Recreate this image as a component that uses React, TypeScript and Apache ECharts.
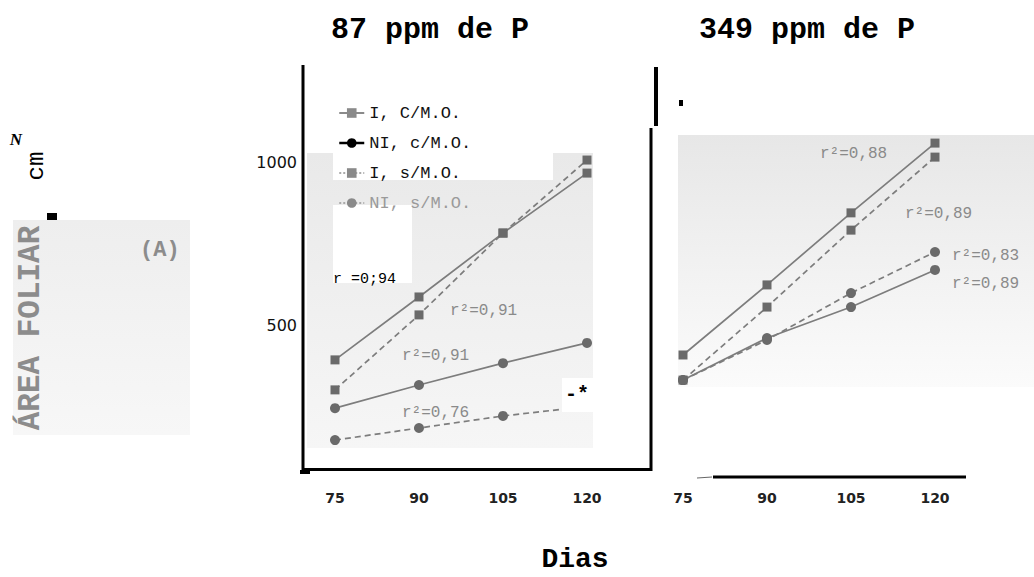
import React, { useEffect, useRef } from "react";
import * as echarts from "echarts";

const days = [75, 90, 105, 120];
const yTickLabels = [500, 1000];
const seriesNames = ["I, C/M.O.", "NI, c/M.O.", "I, s/M.O.", "NI, s/M.O."];
// 87 ppm de P
const ic87 = [393, 586, 782, 966];
const nic87 = [245, 316, 383, 445];
const is87 = [301, 531, 782, 1006];
const nis87 = [147, 184, 221, 250];
// 349 ppm de P
const ic349 = [408, 623, 844, 1058];
const nic349 = [331, 460, 555, 669];
const is349 = [331, 555, 791, 1015];
const nis349 = [331, 454, 598, 724];

const MONO = "'Liberation Mono', 'DejaVu Sans Mono', monospace";
const LINE = "#7d7d7d";
const MARK = "#6a6a6a";

function mk(name: string, vals: number[], idx: number, dashed: boolean, square: boolean) {
  return {
    name,
    type: "line",
    xAxisIndex: idx,
    yAxisIndex: idx,
    data: days.map((d, i) => [d, vals[i]]),
    symbol: square ? "rect" : "circle",
    symbolSize: square ? 9 : 10,
    itemStyle: { color: MARK },
    lineStyle: { color: LINE, width: 1.7, type: dashed ? [6, 4] : "solid" },
    z: 3,
  };
}

export default function App() {
  const ref = useRef<HTMLDivElement>(null);
  useEffect(() => {
    if (!ref.current) return;
    const chart = echarts.init(ref.current, undefined, { renderer: "svg" });
    const gridTop = 96.8;
    const gridH = 391.2;
    const xAx = (i: number) => ({
      type: "value",
      gridIndex: i,
      min: 75,
      max: 120,
      interval: 15,
      axisLine: { show: false },
      axisTick: { show: false },
      splitLine: { show: false },
      axisLabel: { margin: 3, fontFamily: "'DejaVu Sans', sans-serif", fontSize: 14, color: "#222", fontWeight: "bold" },
    });
    const yAx = (i: number) => ({
      type: "value",
      gridIndex: i,
      min: 0,
      max: 1200,
      interval: 100,
      axisLine: { show: false },
      axisTick: { show: false },
      splitLine: { show: false },
      axisLabel: {
        show: i === 0,
        margin: 38,
        fontFamily: "'DejaVu Sans', sans-serif",
        fontSize: 16,
        color: "#111",
        formatter: (v: number) => (yTickLabels.includes(v) ? String(v) : ""),
      },
    });
    const txt = (x: number, y: number, text: string, o: any = {}) => ({
      type: "text",
      x,
      y,
      z: o.z ?? 10,
      rotation: o.rotation ?? 0,
      style: {
        text,
        fill: o.fill ?? "#8a8a8a",
        font: o.font ?? `16px ${MONO}`,
        textAlign: o.align ?? "left",
        textVerticalAlign: "middle",
      },
    });
    const ln = (x1: number, y1: number, x2: number, y2: number, w = 3, c = "#000") => ({
      type: "line",
      z: 10,
      shape: { x1, y1, x2, y2 },
      style: { stroke: c, lineWidth: w },
    });
    const rc = (x: number, y: number, w: number, h: number, fill: any, z = 0) => ({
      type: "rect",
      z,
      shape: { x, y, width: w, height: h },
      style: { fill },
    });
    const grad = (a: string, b: string) =>
      new echarts.graphic.LinearGradient(0, 0, 0, 1, [
        { offset: 0, color: a },
        { offset: 1, color: b },
      ]);
    const option: any = {
      animation: false,
      backgroundColor: "#ffffff",
      grid: [
        { left: 335, top: gridTop, width: 252, height: gridH },
        { left: 683, top: gridTop, width: 252, height: gridH },
      ],
      xAxis: [xAx(0), xAx(1)],
      yAxis: [yAx(0), yAx(1)],
      legend: {
        orient: "vertical",
        left: 333,
        top: 99,
        itemWidth: 25,
        itemHeight: 12,
        itemGap: 12,
        textStyle: { fontFamily: MONO, fontSize: 17, lineHeight: 18, color: "#111" },
        data: [
          { name: seriesNames[0], itemStyle: { color: "#8a8a8a" }, lineStyle: { color: "#8a8a8a", type: "solid" } },
          { name: seriesNames[1], itemStyle: { color: "#000" }, lineStyle: { color: "#000", type: "solid", width: 2.5 } },
          { name: seriesNames[2], itemStyle: { color: "#8a8a8a" }, lineStyle: { color: "#aaaaaa", type: "dotted" } },
          { name: seriesNames[3], itemStyle: { color: "#8a8a8a" }, lineStyle: { color: "#aaaaaa", type: "dotted" }, textStyle: { color: "#9a9a9a" } },
        ],
      },
      series: [
        mk(seriesNames[0], ic87, 0, false, true),
        mk(seriesNames[1], nic87, 0, false, false),
        mk(seriesNames[2], is87, 0, true, true),
        mk(seriesNames[3], nis87, 0, true, false),
        mk(seriesNames[0], ic349, 1, false, true),
        mk(seriesNames[1], nic349, 1, false, false),
        mk(seriesNames[2], is349, 1, true, true),
        mk(seriesNames[3], nis349, 1, true, false),
      ],
      graphic: [
        // scan backgrounds
        rc(307, 153, 286, 295, grad("#e9e9e9", "#f6f6f6")),
        rc(333, 153, 220, 27, "#ffffff", 1),
        rc(333, 205, 79, 78, "#ffffff", 1),
        rc(678, 135, 356, 252, grad("#e7e7e7", "#fbfbfb")),
        rc(13, 220, 177, 215, grad("#eeeeee", "#f7f7f7")),
        rc(562, 378, 33, 34, "#ffffff", 9),
        // frame lines
        ln(303, 65, 303, 471),
        ln(302, 469.5, 652, 469.5),
        ln(651, 128, 651, 471),
        ln(656, 67, 656, 126, 4),
        rc(679, 100, 4, 6, "#000", 10),
        rc(300, 470, 10, 4, "#000", 10),
        ln(713, 477, 966, 477),
        ln(697, 478, 712, 477, 1, "#666"),
        rc(47, 213, 10, 7, "#000", 10),
        // titles
        txt(430, 30, "87 ppm de P", { font: `bold 30px ${MONO}`, fill: "#000", align: "center" }),
        txt(807, 30, "349 ppm de P", { font: `bold 30px ${MONO}`, fill: "#000", align: "center" }),
        txt(575, 559, "Dias", { font: `bold 28px ${MONO}`, fill: "#000", align: "center" }),
        // y-axis title
        txt(30, 328, "ÁREA FOLIAR", { font: `bold 31px ${MONO}`, fill: "#8c8c8c", align: "center", rotation: Math.PI / 2 }),
        txt(140, 250, "(A)", { font: `bold 22px ${MONO}`, fill: "#8c8c8c" }),
        txt(36, 166, "cm", { font: `24px ${MONO}`, fill: "#000", align: "center", rotation: Math.PI / 2 }),
        txt(16, 139, "N", { font: `italic bold 17px 'Liberation Serif', serif`, fill: "#000", align: "center" }),
        // r² annotations
        txt(333, 279, "r =0;94", { fill: "#000", font: `15px ${MONO}` }),
        txt(450, 311, "r²=0,91"),
        txt(402, 356, "r²=0,91"),
        txt(402, 413, "r²=0,76"),
        txt(565, 394, "-*", { fill: "#000", font: `bold 20px ${MONO}` }),
        txt(820, 154, "r²=0,88"),
        txt(905, 214, "r²=0,89"),
        txt(952, 256, "r²=0,83"),
        txt(952, 284, "r²=0,89"),
      ],
    };
    chart.setOption(option);
    return () => chart.dispose();
  }, []);
  return <div ref={ref} style={{ position: "fixed", left: 0, top: 0, width: 1034, height: 577 }} />;
}
